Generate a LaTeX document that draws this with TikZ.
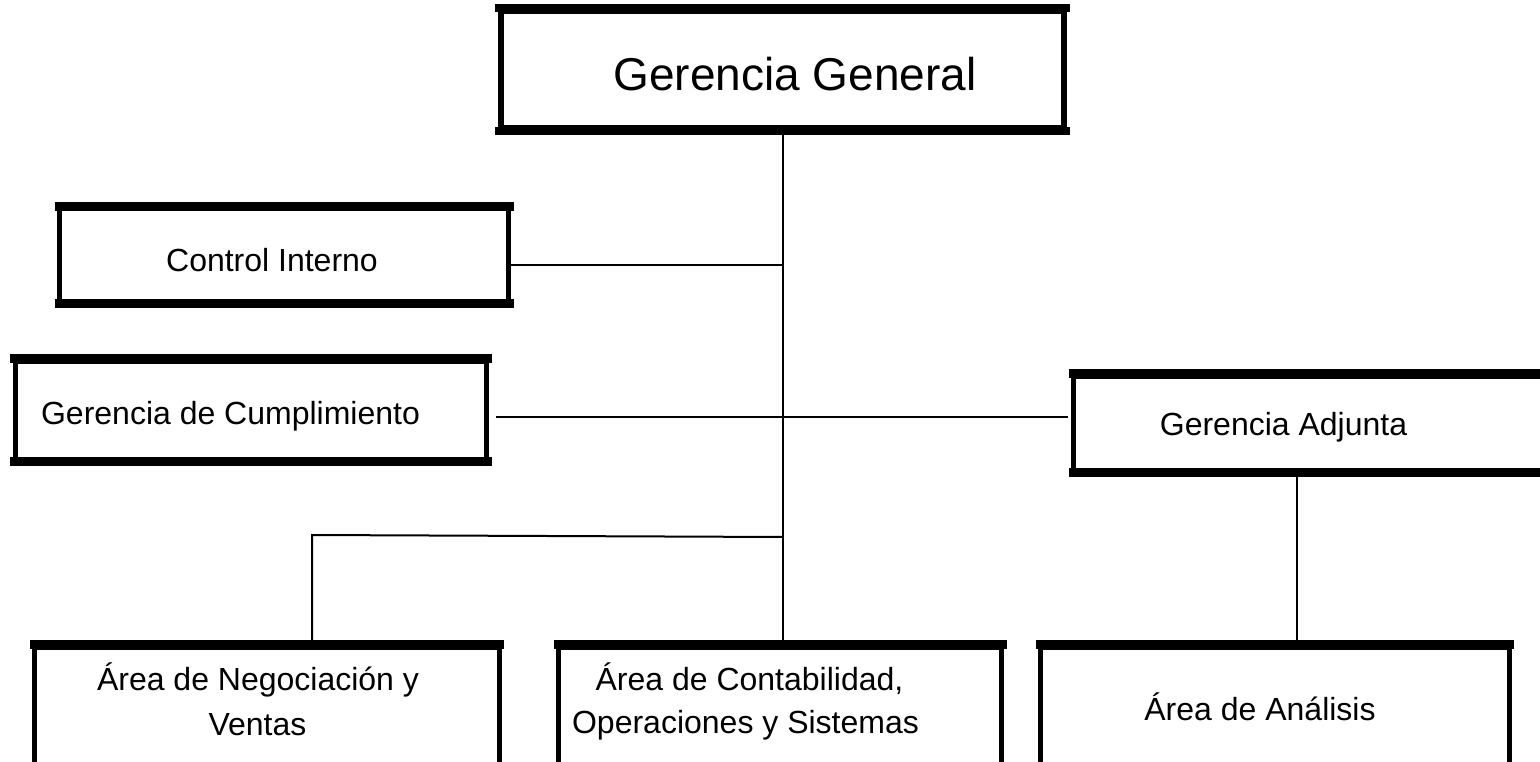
\documentclass[tikz,border=0pt]{standalone}
\usepackage{fontspec}
\setmainfont{Liberation Sans}
\begin{document}
\begin{tikzpicture}[x=1pt,y=-1pt,
  orgbox/.style={draw, line width=5pt, inner sep=0pt, fill=white},
  wire/.style={line width=2pt},
  small/.style={font=\fontsize{32}{38}\selectfont, inner sep=0pt},
  big/.style={font=\fontsize{46}{54}\selectfont, inner sep=0pt}]
\useasboundingbox (0,0) rectangle (1540,762);
\clip (0,0) rectangle (1540,762);
\fill[white] (0,0) rectangle (1540,762);

% boxes
\node[orgbox, line width=6pt, minimum width=563pt, minimum height=117pt] (gg) at (782.5,69.5) {};
\node[orgbox, minimum width=449pt, minimum height=92pt] (ci) at (284,255) {};
\node[orgbox, minimum width=471.5pt, minimum height=98pt] (cump) at (250.75,410) {};
\node[orgbox, minimum width=526.5pt, minimum height=94pt] (adj) at (1336.75,423) {};
\node[orgbox, minimum width=464.5pt, minimum height=173pt] (neg) at (266.75,733.5) {};
\node[orgbox, minimum width=443pt, minimum height=173pt] (cont) at (780.2,733.5) {};
\node[orgbox, minimum width=468.5pt, minimum height=173pt] (anal) at (1274.75,733.5) {};

% heavier top and bottom edges
\foreach \n/\s in {gg/3pt, ci/2.5pt, cump/2.5pt, adj/2.5pt, neg/2.5pt, cont/2.5pt, anal/2.5pt}{
  \draw[line width=8.5pt] ([xshift=-\s]\n.north west) -- ([xshift=\s]\n.north east);
  \draw[line width=8.5pt] ([xshift=-\s]\n.south west) -- ([xshift=\s]\n.south east);
}

% texts
\node[big, anchor=base] (ggt) at (795,91) {Gerencia General};
\node[small, anchor=base] (cit) at (272,271.6) {Control Interno};
\node[small, anchor=base] (cumpt) at (230.5,424.7) {Gerencia de Cumplimiento};
\node[small, anchor=base] (adjt) at (1283.5,435) {Gerencia Adjunta};
\node[small, anchor=base] (negt1) at (258,690.5) {Área de Negociación y};
\node[small, anchor=base] (negt2) at (257.5,735) {Ventas};
\node[small, anchor=base] (contt1) at (749.5,690.5) {Área de Contabilidad,};
\node[small, anchor=base] (contt2) at (745.5,733) {Operaciones y Sistemas};
\node[small, anchor=base] (analt) at (1260,720) {Área de Análisis};

% connectors
\coordinate (jci) at (783,265);
\coordinate (jneg) at (783,537);
\coordinate (kneg) at (312,535);
\coordinate (c1) at (496,417);
\coordinate (c2) at (1068,417);
\coordinate (adjdown) at (1297,477);

\draw[wire] (gg.south) -- (gg.south |- cont.north);
\draw[wire] (ci.east |- jci) -- (jci);
\draw[wire] (c1) -- (c2);
\draw[wire] (jneg) -- (kneg) -- (kneg |- neg.north);
\draw[wire] (adjdown) -- (adjdown |- anal.north);
\end{tikzpicture}
\end{document}
